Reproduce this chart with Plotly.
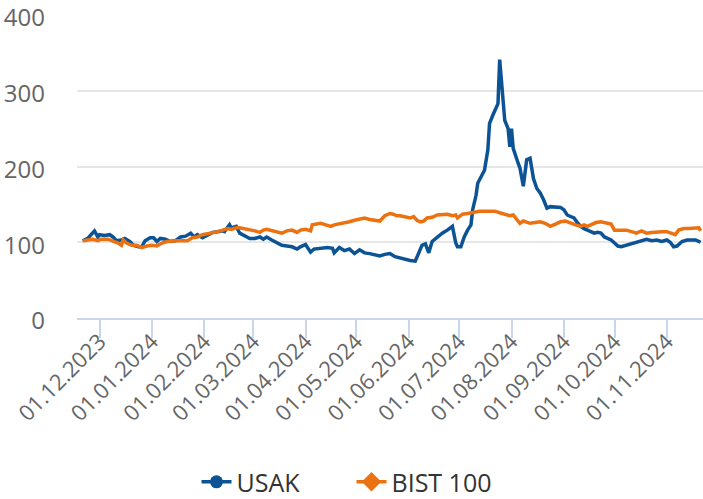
import plotly.graph_objects as go

usak_dates = [
    "2023-11-21", "2023-11-24", "2023-11-28", "2023-11-30", "2023-12-01", "2023-12-04", "2023-12-07",
    "2023-12-09", "2023-12-11", "2023-12-14", "2023-12-16", "2023-12-19", "2023-12-21", "2023-12-24",
    "2023-12-26", "2023-12-28", "2023-12-31", "2024-01-02", "2024-01-04", "2024-01-06", "2024-01-09",
    "2024-01-12", "2024-01-15", "2024-01-18", "2024-01-21", "2024-01-24", "2024-01-26", "2024-01-28",
    "2024-01-31", "2024-02-03", "2024-02-06", "2024-02-09", "2024-02-12", "2024-02-13", "2024-02-15",
    "2024-02-16", "2024-02-17", "2024-02-20", "2024-02-22", "2024-02-25", "2024-02-28", "2024-03-02",
    "2024-03-05", "2024-03-07", "2024-03-09", "2024-03-12", "2024-03-15", "2024-03-18", "2024-03-21",
    "2024-03-24", "2024-03-27", "2024-03-29", "2024-04-01", "2024-04-04", "2024-04-06", "2024-04-10",
    "2024-04-14", "2024-04-17", "2024-04-18", "2024-04-21", "2024-04-24", "2024-04-27", "2024-04-30",
    "2024-05-03", "2024-05-06", "2024-05-09", "2024-05-12", "2024-05-15", "2024-05-18", "2024-05-21",
    "2024-05-24", "2024-05-27", "2024-05-30", "2024-06-02", "2024-06-05", "2024-06-07", "2024-06-09",
    "2024-06-11", "2024-06-13", "2024-06-15", "2024-06-18", "2024-06-21", "2024-06-24", "2024-06-26",
    "2024-06-27", "2024-06-29", "2024-06-30", "2024-07-02", "2024-07-04", "2024-07-06", "2024-07-08",
    "2024-07-09", "2024-07-11", "2024-07-12", "2024-07-14", "2024-07-16", "2024-07-18", "2024-07-19",
    "2024-07-21", "2024-07-24", "2024-07-25", "2024-07-27", "2024-07-28", "2024-07-30", "2024-07-31",
    "2024-08-01", "2024-08-02", "2024-08-05", "2024-08-06", "2024-08-08", "2024-08-10", "2024-08-12",
    "2024-08-14", "2024-08-16", "2024-08-18", "2024-08-20", "2024-08-22", "2024-08-24", "2024-08-26",
    "2024-08-28", "2024-08-30", "2024-09-01", "2024-09-03", "2024-09-05", "2024-09-07", "2024-09-09",
    "2024-09-11", "2024-09-13", "2024-09-15", "2024-09-17", "2024-09-19", "2024-09-21", "2024-09-23",
    "2024-09-25", "2024-09-27", "2024-09-29", "2024-10-01", "2024-10-03", "2024-10-05", "2024-10-08",
    "2024-10-11", "2024-10-14", "2024-10-17", "2024-10-20", "2024-10-23", "2024-10-26", "2024-10-29",
    "2024-11-01", "2024-11-03", "2024-11-05", "2024-11-07", "2024-11-10", "2024-11-13", "2024-11-16",
    "2024-11-18", "2024-11-21",
]
usak_values = [
    102, 105, 115, 107, 110, 109, 110,
    107, 102, 103, 105, 101, 96, 94,
    94, 102, 106, 106, 101, 105, 104,
    101, 102, 107, 108, 112, 107, 110,
    106, 110, 113, 114, 115, 114, 121,
    123, 119, 121, 112, 108, 105, 105,
    107, 104, 107, 103, 99, 96, 95,
    94, 91, 94, 97, 87, 91, 92,
    93, 92, 86, 93, 89, 91, 85,
    90, 86, 85, 84, 82, 84, 85,
    81, 79, 77, 76, 75, 86, 96,
    98, 86, 101, 107, 112, 116, 119,
    121, 99, 94, 94, 107, 116, 123,
    143, 162, 178, 187, 195, 222, 257,
    268, 283, 341, 288, 261, 250, 226,
    250, 224, 204, 198, 174, 209, 211,
    184, 171, 165, 156, 145, 147, 147,
    146, 146, 143, 136, 134, 132, 126,
    121, 118, 116, 114, 112, 113, 112,
    107, 105, 103, 99, 95, 94, 96,
    99, 100, 102, 104, 102, 103, 101,
    103, 100, 94, 95, 101, 103, 103,
    103, 100,
]

bist_dates = [
    "2023-11-21", "2023-11-24", "2023-11-27", "2023-11-30", "2023-12-02", "2023-12-06", "2023-12-09",
    "2023-12-12", "2023-12-14", "2023-12-15", "2023-12-17", "2023-12-20", "2023-12-23", "2023-12-26",
    "2023-12-29", "2024-01-01", "2024-01-04", "2024-01-07", "2024-01-10", "2024-01-13", "2024-01-16",
    "2024-01-19", "2024-01-22", "2024-01-25", "2024-01-28", "2024-01-31", "2024-02-03", "2024-02-06",
    "2024-02-09", "2024-02-12", "2024-02-15", "2024-02-17", "2024-02-20", "2024-02-22", "2024-02-25",
    "2024-02-28", "2024-03-02", "2024-03-05", "2024-03-07", "2024-03-09", "2024-03-12", "2024-03-15",
    "2024-03-18", "2024-03-21", "2024-03-24", "2024-03-27", "2024-03-29", "2024-04-01", "2024-04-04",
    "2024-04-05", "2024-04-07", "2024-04-10", "2024-04-13", "2024-04-16", "2024-04-18", "2024-04-21",
    "2024-04-24", "2024-04-27", "2024-04-30", "2024-05-03", "2024-05-06", "2024-05-09", "2024-05-12",
    "2024-05-15", "2024-05-18", "2024-05-21", "2024-05-23", "2024-05-25", "2024-05-27", "2024-05-30",
    "2024-06-02", "2024-06-04", "2024-06-06", "2024-06-08", "2024-06-10", "2024-06-12", "2024-06-15",
    "2024-06-18", "2024-06-21", "2024-06-24", "2024-06-27", "2024-06-29", "2024-06-30", "2024-07-03",
    "2024-07-06", "2024-07-10", "2024-07-13", "2024-07-19", "2024-07-22", "2024-07-25", "2024-07-28",
    "2024-07-31", "2024-08-02", "2024-08-05", "2024-08-06", "2024-08-08", "2024-08-10", "2024-08-12",
    "2024-08-15", "2024-08-18", "2024-08-21", "2024-08-24", "2024-08-27", "2024-08-30", "2024-09-02",
    "2024-09-05", "2024-09-08", "2024-09-11", "2024-09-13", "2024-09-15", "2024-09-17", "2024-09-20",
    "2024-09-23", "2024-09-25", "2024-09-29", "2024-10-01", "2024-10-05", "2024-10-08", "2024-10-11",
    "2024-10-14", "2024-10-17", "2024-10-20", "2024-10-23", "2024-10-26", "2024-10-29", "2024-11-01",
    "2024-11-04", "2024-11-06", "2024-11-08", "2024-11-11", "2024-11-14", "2024-11-17", "2024-11-20",
    "2024-11-21",
]
bist_values = [
    102, 103, 104, 102, 104, 104, 102,
    99, 96, 103, 99, 96, 96, 93,
    95, 96, 95, 99, 101, 102, 102,
    102, 102, 106, 107, 110, 111, 112,
    114, 116, 118, 117, 119, 119, 118,
    116, 115, 113, 116, 117, 115, 113,
    112, 115, 116, 113, 116, 117, 115,
    123, 124, 125, 123, 121, 123, 124,
    125, 127, 129, 131, 132, 130, 129,
    128, 135, 138, 137, 135, 135, 134,
    132, 134, 129, 127, 128, 132, 133,
    136, 137, 137, 135, 136, 132, 137,
    138, 140, 141, 141, 141, 139, 137,
    135, 136, 127, 125, 128, 126, 125,
    126, 127, 125, 121, 124, 127, 128,
    125, 123, 121, 123, 121, 123, 126,
    127, 126, 124, 116, 116, 116, 114,
    112, 115, 112, 113, 114, 114, 114,
    112, 110, 116, 118, 118, 119, 119,
    115,
]

month_ticks = [
    "2023-12-01", "2024-01-01", "2024-02-01", "2024-03-01", "2024-04-01", "2024-05-01",
    "2024-06-01", "2024-07-01", "2024-08-01", "2024-09-01", "2024-10-01", "2024-11-01",
]
y_ticks = [0, 100, 200, 300, 400]

BLUE = "#0b5394"
ORANGE = "#ec7211"
FONT = "Open Sans"

fig = go.Figure()
fig.add_trace(go.Scatter(x=usak_dates, y=usak_values, mode="lines",
                         line=dict(color=BLUE, width=3.5), showlegend=False, name="USAK"))
fig.add_trace(go.Scatter(x=bist_dates, y=bist_values, mode="lines",
                         line=dict(color=ORANGE, width=3.5), showlegend=False, name="BIST 100"))
# legend entries
fig.add_trace(go.Scatter(x=[None], y=[None], mode="lines+markers", name="USAK",
                         line=dict(color=BLUE, width=3.5),
                         marker=dict(symbol="circle", size=13, color=BLUE)))
fig.add_trace(go.Scatter(x=[None], y=[None], mode="lines+markers", name="BIST 100",
                         line=dict(color=ORANGE, width=3.5),
                         marker=dict(symbol="diamond", size=15, color=ORANGE)))

fig.update_layout(
    width=703, height=499,
    margin=dict(l=77, r=0, t=15, b=181),
    paper_bgcolor="white", plot_bgcolor="white",
    font=dict(family=FONT, color="#666666"),
    showlegend=True,
    legend=dict(orientation="h", xref="container", x=0.5, xanchor="center",
                yref="container", y=0.034, yanchor="middle",
                font=dict(size=25, color="#333333", family=FONT),
                itemwidth=30, entrywidth=110, tracegroupgap=0),
    xaxis=dict(
        type="date", automargin=False,
        range=["2023-11-17 16:00", "2024-11-22 10:00"],
        tickmode="array", tickvals=month_ticks, tickformat="%d.%m.%Y",
        tickangle=-45, tickfont=dict(size=22, color="#666666", family=FONT),
        ticklabeloverflow="allow", ticklabelstandoff=-18,
        showgrid=False, showline=True, linecolor="#ccd6eb", linewidth=2,
        ticks="outside", ticklen=18, tickcolor="#ccd6eb", tickwidth=2,
        zeroline=False,
    ),
    yaxis=dict(
        automargin=False,
        range=[0, 400], tickmode="array", tickvals=y_ticks,
        tickfont=dict(size=24, color="#666666", family=FONT),
        ticklabeloverflow="allow", ticklabelshift=3,
        showgrid=True, gridcolor="#e6e6e6", gridwidth=2,
        zeroline=False, showline=False, ticks="",
        ticklabelstandoff=31,
    ),
)

fig.write_html("out.html", config={"displayModeBar": False},
               post_script="document.body.style.margin='0';")
